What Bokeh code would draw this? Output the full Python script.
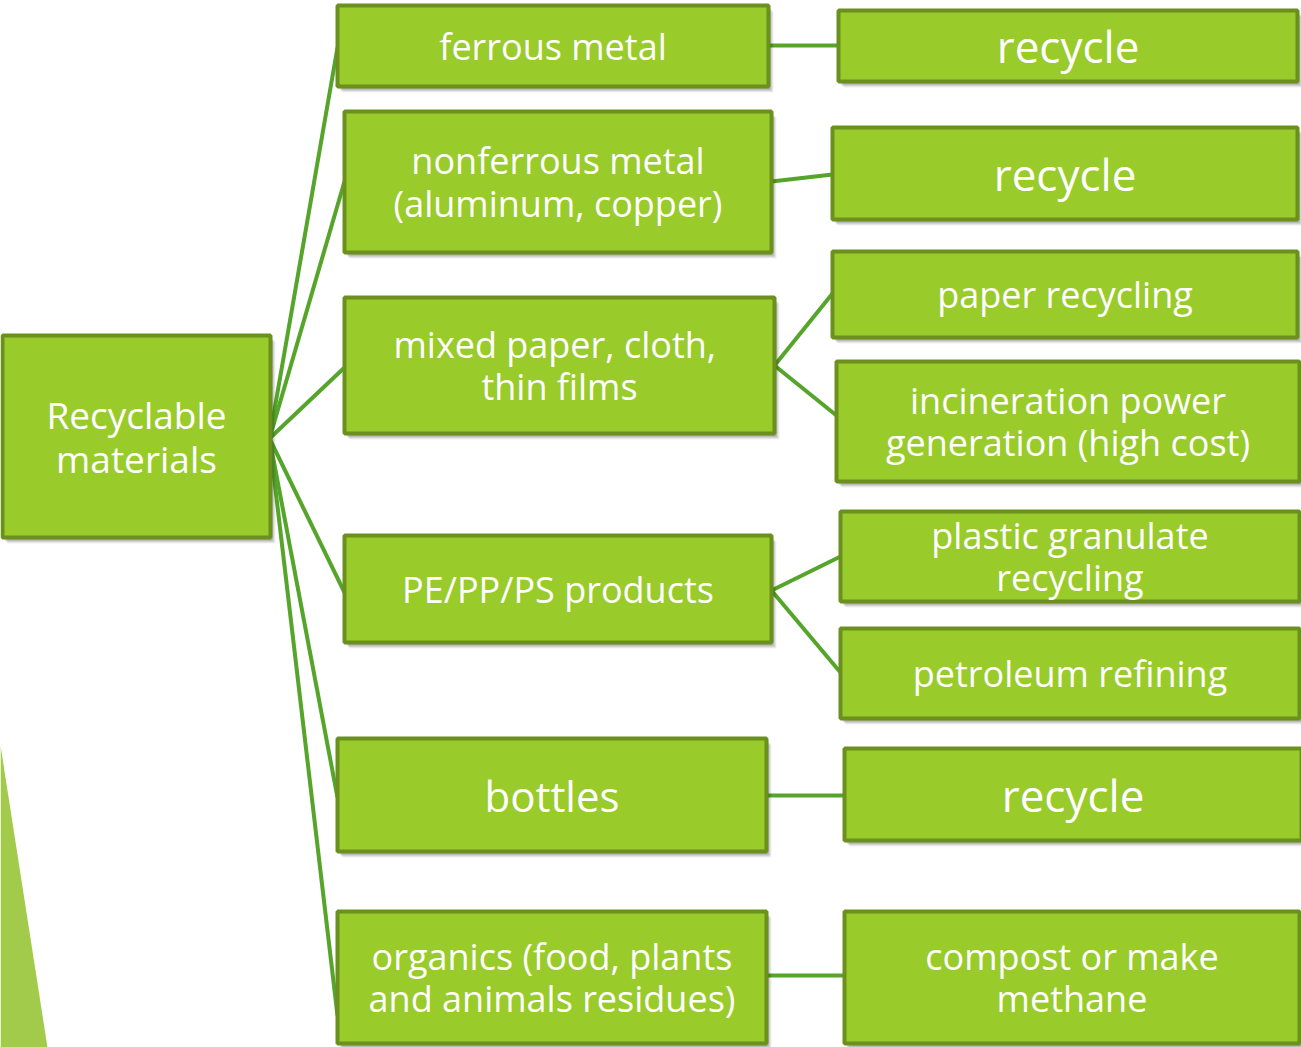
from bokeh.plotting import figure
from bokeh.models import Range1d
from bokeh.core.properties import value
from bokeh.embed import file_html
from bokeh.resources import INLINE

# ---- data (labels and relations) ----
root_label = "Recyclable\nmaterials"
mid_labels = [
    "ferrous metal",
    "nonferrous metal\n(aluminum, copper)",
    "mixed paper,  cloth,\nthin films",
    "PE/PP/PS products",
    "bottles",
    "organics (food, plants\nand animals residues)",
]
right_labels = [
    "recycle",
    "recycle",
    "paper recycling",
    "incineration power\ngeneration (high cost)",
    "plastic granulate\nrecycling",
    "petroleum refining",
    "recycle",
    "compost or make\nmethane",
]
right_parent = [0, 1, 2, 2, 3, 3, 4, 5]

# ---- layout (image pixel coordinates: left, right, top, bottom) ----
root_box = (2, 270, 335, 537)
mid_boxes = [
    (337, 768, 5, 86),
    (344, 771, 111, 252),
    (344, 774, 297, 433),
    (344, 771, 535, 642),
    (337, 766, 738, 851),
    (337, 766, 911, 1043),
]
right_boxes = [
    (838, 1297, 10, 81),
    (832, 1297, 127, 219),
    (832, 1297, 251, 337),
    (836, 1299, 361, 481),
    (840, 1299, 511, 601),
    (840, 1299, 628, 718),
    (844, 1301, 748, 840),
    (844, 1299, 911, 1043),
]
root_size = 37
mid_sizes = [36, 36, 36, 36, 42, 36]
right_sizes = [44, 44, 36, 36, 36, 36, 44, 36]
root_anchor = (269, 438)
mid_in = [(337, 47), (344, 181), (344, 367), (344, 592), (337, 797), (337, 1015)]
mid_out = [(768, 45), (771, 181), (774, 365), (771, 590), (766, 795), (766, 975)]
right_in = [(838, 45), (832, 174), (832, 293), (836, 415), (840, 556), (840, 672),
            (844, 795), (844, 975)]

FILL = "#99cb2a"
BORDER = "#6b901e"
LINE = "#55a52a"
TRI = "#a3cb4b"
FONT = "Open Sans"

W, H = 1301, 1047
p = figure(width=W, height=H, output_backend="svg", toolbar_location=None,
           x_range=Range1d(0, W), y_range=Range1d(H, 0),
           min_border=0, min_border_left=0, min_border_right=0,
           min_border_top=0, min_border_bottom=0)
p.axis.visible = False
p.grid.visible = False
p.outline_line_color = None
p.background_fill_color = "white"
p.border_fill_color = "white"

# decorative triangle at bottom-left
p.patch([0, 47, 0], [745, 1047, 1047], fill_color=TRI, line_color=None)

# connector lines
xs, ys = [], []
for (x, y) in mid_in:
    xs.append([root_anchor[0], x])
    ys.append([root_anchor[1], y])
for i, par in enumerate(right_parent):
    xs.append([mid_out[par][0], right_in[i][0]])
    ys.append([mid_out[par][1], right_in[i][1]])
p.multi_line(xs, ys, line_color=LINE, line_width=4)

all_boxes = [root_box] + mid_boxes + right_boxes
all_labels = [root_label] + mid_labels + right_labels
all_sizes = [root_size] + mid_sizes + right_sizes

# shadows
for dx, dy, a in [(5, 6, 0.06), (4, 5, 0.08), (3, 4, 0.10), (2, 3, 0.10)]:
    p.quad(left=[b[0] + dx for b in all_boxes], right=[b[1] + dx for b in all_boxes],
           top=[b[2] + dy for b in all_boxes], bottom=[b[3] + dy for b in all_boxes],
           fill_color="black", fill_alpha=a, line_color=None)

p.quad(left=[b[0] for b in all_boxes], right=[b[1] for b in all_boxes],
       top=[b[2] for b in all_boxes], bottom=[b[3] for b in all_boxes],
       fill_color=FILL, line_color=BORDER, line_width=4)

for b, lab, fs in zip(all_boxes, all_labels, all_sizes):
    cx = (b[0] + b[1]) / 2
    cy = (b[2] + b[3]) / 2
    p.text(x=[cx], y=[cy], text=[lab], text_align="center", text_baseline="middle",
           text_color="white", text_font=value(FONT), text_font_size=f"{fs}px",
           text_line_height=0.86)

open("out.html", "w").write(file_html(p, INLINE))
